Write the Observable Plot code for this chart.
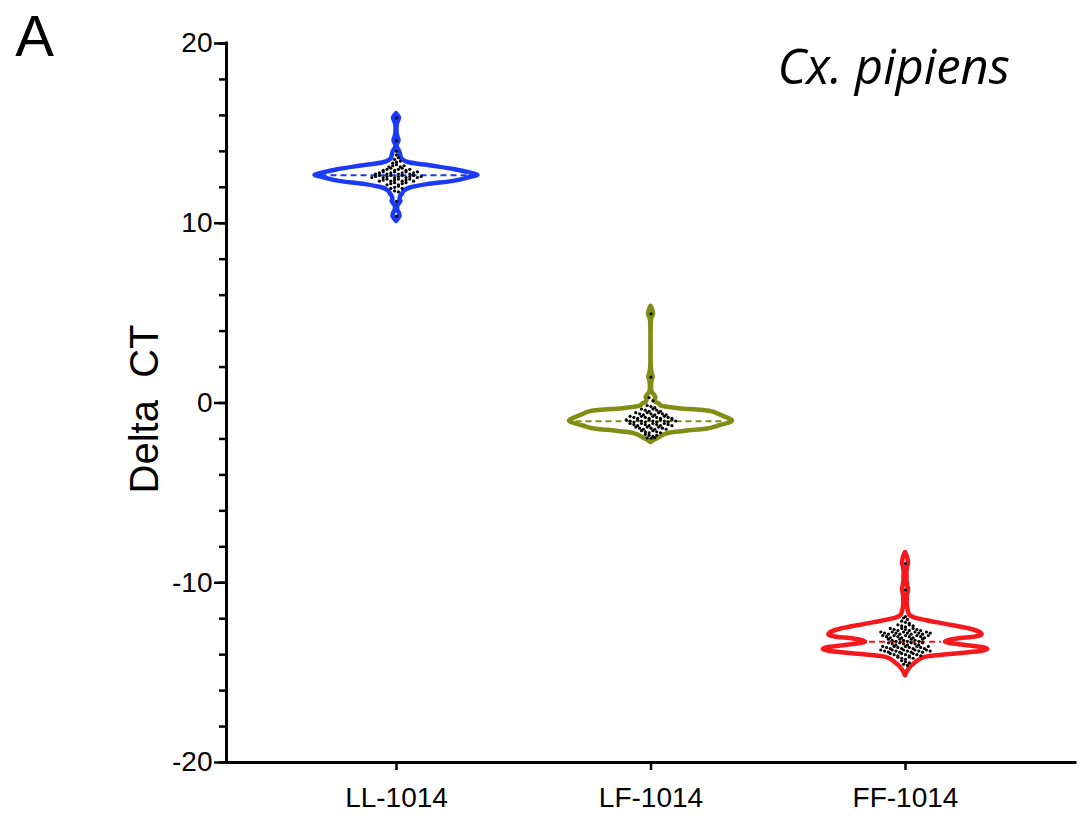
<!DOCTYPE html>
<html><head><meta charset="utf-8">
<script src="https://cdn.jsdelivr.net/npm/d3@7"></script>
<script src="https://cdn.jsdelivr.net/npm/@observablehq/plot@0.6"></script>
<style>body{margin:0;background:#fff}</style>
</head><body><div id="chart"></div>
<script>
// ---- data ----
const categories = ["LL-1014", "LF-1014", "FF-1014"];
const colors = ["#1a3af5", "#7f8f14", "#f5191d"];
const medians = [12.67, -1.02, -13.28];
const yTicksMajor = [-20, -10, 0, 10, 20];
const yTicksMinor = [-20, -18, -16, -14, -12, -10, -8, -6, -4, -2, 0, 2, 4, 6, 8, 10, 12, 14, 16, 18, 20];

// violin outlines: value and relative half-width (1 = widest)
const LL_outlineY = [16.1, 15.95, 15.85, 15.7, 15.5, 15.3, 15.0, 14.8, 14.6, 14.42, 14.28, 14.15, 14.0, 13.85, 13.7, 13.54, 13.35, 13.17, 12.98, 12.8, 12.67, 12.52, 12.33, 12.15, 11.96, 11.8, 11.63, 11.45, 11.3, 11.22, 11.1, 10.95, 10.85, 10.7, 10.55, 10.39, 10.25, 10.1];
const LL_outlineW = [0, .025, .037, .025, .010, .006, .007, .018, .031, .015, .006, .018, .037, .049, .055, .074, .17, .45, .72, .90, 1, .88, .70, .38, .17, .10, .074, .049, .043, .055, .037, .015, .012, .018, .037, .043, .025, 0];
const LF_outlineY = [5.38, 5.2, 5.05, 4.96, 4.85, 4.7, 4.4, 3.5, 2.5, 2.0, 1.75, 1.6, 1.44, 1.3, 1.15, 0.9, 0.65, 0.5, 0.3, 0.15, 0.05, -0.05, -0.15, -0.25, -0.33, -0.4, -0.48, -0.63, -0.82, -1.0, -1.1, -1.28, -1.46, -1.55, -1.65, -1.8, -1.93, -2.05, -2.2];
const LF_outlineW = [0, .018, .027, .031, .025, .010, .003, .001, .001, .004, .010, .018, .027, .018, .010, .007, .012, .031, .060, .049, .055, .10, .12, .22, .37, .61, .74, .83, .93, 1, .97, .83, .67, .47, .26, .15, .10, .05, 0];
const FF_outlineY = [-8.32, -8.5, -8.7, -8.93, -9.15, -9.4, -9.8, -10.1, -10.25, -10.4, -10.55, -10.8, -11.2, -11.5, -11.7, -11.85, -11.95, -12.1, -12.3, -12.57, -12.75, -12.9, -13.02, -13.13, -13.31, -13.5, -13.62, -13.72, -13.82, -13.93, -14.15, -14.43, -14.8, -15.17];
const FF_outlineW = [0, .018, .031, .037, .025, .018, .018, .025, .031, .037, .031, .022, .022, .031, .043, .061, .11, .25, .48, .79, .91, .94, .86, .64, .49, .76, .96, 1.01, .93, .68, .24, .13, .043, 0];

// individual observations (dots)
const LL_values = [15.85, 14.6, 14.0, 13.8, 13.55, 13.65, 13.34, 13.4, 13.46,
  13.14, 13.2, 13.26, 13.14, 13.2,
  12.94, 13.0, 13.06, 12.94, 13.0, 13.06, 12.94, 13.0,
  12.74, 12.8, 12.86, 12.74, 12.8, 12.86, 12.74, 12.8, 12.86, 12.74, 12.8, 12.86,
  12.54, 12.6, 12.66, 12.54, 12.6, 12.66, 12.54, 12.6, 12.66, 12.54, 12.6, 12.66, 12.54, 12.6,
  12.34, 12.4, 12.46, 12.34, 12.4, 12.46, 12.34, 12.4, 12.46, 12.34,
  12.14, 12.2, 12.26, 12.14, 12.2, 12.26,
  11.94, 12.0, 12.06, 11.94, 11.8, 11.74, 11.22, 10.4];
const LF_values = [4.96, 1.44, 0.3, 0.12,
  -0.14, -0.2, -0.26,
  -0.34, -0.4, -0.46, -0.34, -0.4, -0.46,
  -0.54, -0.6, -0.66, -0.54, -0.6, -0.66, -0.54, -0.6, -0.66,
  -0.74, -0.8, -0.86, -0.74, -0.8, -0.86, -0.74, -0.8, -0.86, -0.74, -0.8, -0.86,
  -0.94, -1.0, -1.06, -0.94, -1.0, -1.06, -0.94, -1.0, -1.06, -0.94, -1.0, -1.06, -0.94, -1.0,
  -1.14, -1.2, -1.26, -1.14, -1.2, -1.26, -1.14, -1.2, -1.26, -1.14, -1.2, -1.26,
  -1.34, -1.4, -1.46, -1.34, -1.4, -1.46, -1.34, -1.4, -1.46,
  -1.54, -1.6, -1.66, -1.54, -1.6, -1.66,
  -1.74, -1.8, -1.86, -1.8,
  -1.94, -1.96, -1.94];
const FF_values = [-8.93, -10.4, -11.88,
  -11.96, -12.04,
  -12.14, -12.2, -12.26,
  -12.34, -12.4, -12.46, -12.34, -12.4,
  -12.54, -12.6, -12.66, -12.54, -12.6, -12.66, -12.54, -12.6, -12.66,
  -12.74, -12.8, -12.86, -12.74, -12.8, -12.86, -12.74, -12.8, -12.86, -12.74, -12.8, -12.86, -12.74, -12.8,
  -12.94, -13.0, -13.06, -12.94, -13.0, -13.06, -12.94, -13.0, -13.06, -12.94, -13.0, -13.06, -12.94,
  -13.14, -13.2, -13.26, -13.14, -13.2, -13.26, -13.14, -13.2, -13.26, -13.14,
  -13.34, -13.4, -13.46, -13.34, -13.4, -13.46, -13.34, -13.4, -13.46, -13.34,
  -13.54, -13.6, -13.66, -13.54, -13.6, -13.66, -13.54, -13.6, -13.66, -13.54, -13.6, -13.66, -13.54,
  -13.74, -13.8, -13.86, -13.74, -13.8, -13.86, -13.74, -13.8, -13.86, -13.74, -13.8, -13.86, -13.74, -13.8,
  -13.94, -14.0, -14.06, -13.94, -14.0, -14.06, -13.94, -14.0, -14.06,
  -14.14, -14.2, -14.26, -14.14, -14.2,
  -14.34, -14.4, -14.46,
  -14.54, -14.6];

// ---- build tables ----
const width = 1084, height = 816;
const marginLeft = 226, marginRight = 9, marginTop = 43, marginBottom = 54;
const xDomain = [-0.668, 2.668];
const yDomain = [-20, 20];
const pxPerX = (width - marginLeft - marginRight) / (xDomain[1] - xDomain[0]);
const W = 81.5 / pxPerX;          // widest half-width of a violin (x units)
const dotStep = 3.8 / pxPerX;     // horizontal spacing of dots
const rowSize = 0.2;              // vertical bin of the dot layout

const outlines = [[LL_outlineY, LL_outlineW], [LF_outlineY, LF_outlineW], [FF_outlineY, FF_outlineW]];
const outlineRows = [];
outlines.forEach(([ys, ws], i) => ys.forEach((y, k) => outlineRows.push({cat: categories[i], idx: i, y, w: ws[k]})));

const medianRows = medians.map((m, i) => {
  const [ys, ws] = outlines[i];
  const half = d3.scaleLinear(ys, ws)(m) * W - 6 / pxPerX;
  return {cat: categories[i], idx: i, y: m, half};
});

const dotRows = [];
[LL_values, LF_values, FF_values].forEach((vals, i) => {
  const bins = d3.group(vals, v => Math.round(v / rowSize));
  for (const [, arr] of bins) {
    arr.forEach((v, k) => dotRows.push({cat: categories[i], v, x: i + (k - (arr.length - 1) / 2) * dotStep}));
  }
});

const chart = Plot.plot({
  width, height, marginLeft, marginRight, marginTop, marginBottom,
  style: {fontFamily: "'Liberation Sans', Arial, sans-serif", fontSize: "28px", color: "black", background: "white"},
  x: {domain: xDomain, axis: null},
  y: {domain: yDomain, axis: null},
  color: {domain: categories, range: colors},
  marks: [
    Plot.areaX(outlineRows, {
      y: "y", x1: d => d.idx - d.w * W, x2: d => d.idx + d.w * W, z: "cat",
      fill: "white", stroke: "cat", strokeWidth: 4.5, strokeLinejoin: "round", curve: "monotone-y"
    }),
    Plot.ruleY(medianRows, {y: "y", x1: d => d.idx - d.half, x2: d => d.idx + d.half, stroke: "cat", strokeWidth: 2, strokeDasharray: "6,4"}),
    Plot.dot(dotRows, {x: "x", y: "v", r: 1.6, fill: "black", stroke: null}),
    Plot.axisY({ticks: yTicksMinor, tickSize: 7, fill: "none", strokeWidth: 2.5, label: null}),
    Plot.axisY({ticks: yTicksMajor, tickSize: 12, tickPadding: 2, tickFormat: d => String(d), strokeWidth: 2.5, fontSize: 28, label: null}),
    Plot.axisX({ticks: [0, 1, 2], tickFormat: i => categories[i], tickSize: 8, tickPadding: 17, strokeWidth: 2.5, fontSize: 28, label: null}),
    Plot.ruleX([xDomain[0]], {strokeWidth: 3, strokeLinecap: "square"}),
    Plot.ruleY([yDomain[0]], {strokeWidth: 3, strokeLinecap: "square"}),
    Plot.text(["Delta\u00a0 CT"], {frameAnchor: "left", textAnchor: "middle", lineAnchor: "middle", dx: -81, dy: 6, rotate: -90, fontSize: 40}),
    Plot.text(["A"], {frameAnchor: "top-left", textAnchor: "middle", dx: -192, dy: 12, lineAnchor: "bottom", fontSize: 58}),
    Plot.text(["Cx. pipiens"], {frameAnchor: "top-left", dx: 551, dy: 40, textAnchor: "start", lineAnchor: "bottom", fontSize: 49, fontStyle: "italic", fontFamily: "Open Sans"})
  ]
});
document.getElementById("chart").append(chart);
</script>
</body></html>
